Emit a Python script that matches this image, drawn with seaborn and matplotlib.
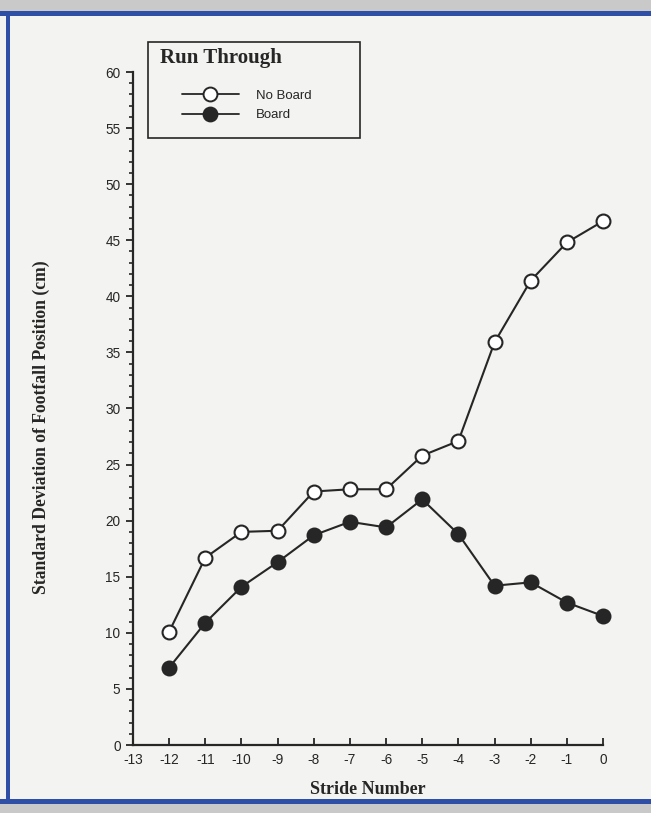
import numpy as np
import pandas as pd
import seaborn as sns
import matplotlib.pyplot as plt
from matplotlib.lines import Line2D
from matplotlib.patches import Rectangle
from matplotlib.ticker import MultipleLocator

stride = [-12, -11, -10, -9, -8, -7, -6, -5, -4, -3, -2, -1, 0]
no_board = [10.1, 16.7, 19.0, 19.1, 22.6, 22.8, 22.8, 25.8, 27.1, 35.9, 41.4, 44.8, 46.7]
board = [6.9, 10.9, 14.1, 16.3, 18.7, 19.9, 19.4, 21.9, 18.8, 14.2, 14.5, 12.7, 11.5]
xticks = list(range(-13, 1))
yticks = list(range(0, 61, 5))

sns.set_theme(style="ticks")
plt.rcParams['font.family'] = ['Liberation Sans', 'DejaVu Sans']
plt.rcParams['axes.unicode_minus'] = False

bg = '#f3f3f1'
blue = '#2f4fa6'
ink = '#262626'

fig = plt.figure(figsize=(6.51, 8.13), dpi=100)
fig.patch.set_facecolor(bg)

def fig_rect(x0, y0, w, h, color, z=1):
    # rectangle given in pixels from the top-left corner
    fig.patches.append(Rectangle((x0/651, 1 - (y0 + h)/813), w/651, h/813,
                                 transform=fig.transFigure, facecolor=color,
                                 edgecolor='none', zorder=z))

# scanned page frame
fig_rect(0, 0, 651, 11, '#c9c9c9', 0)
fig_rect(0, 11, 651, 5, blue)
fig_rect(0, 804, 651, 9, '#c9c9c9', 0)
fig_rect(0, 799, 651, 5, blue)
fig_rect(6, 16, 4, 783, blue)

ax = fig.add_axes([133/651, 68/813, 470/651, 673/813])
ax.set_facecolor(bg)

sns.lineplot(x=stride, y=no_board, ax=ax, color=ink, lw=1.5, marker='o',
             markersize=10, markerfacecolor='white', markeredgecolor=ink,
             markeredgewidth=1.5, zorder=3, clip_on=False)
sns.lineplot(x=stride, y=board, ax=ax, color=ink, lw=1.5, marker='o',
             markersize=10, markerfacecolor=ink, markeredgecolor=ink,
             markeredgewidth=1.5, zorder=3, clip_on=False)

ax.set_xlim(-13, 0)
ax.set_ylim(0, 60)
ax.set_xticks(xticks)
ax.set_yticks(yticks)
ax.yaxis.set_minor_locator(MultipleLocator(1))
ax.tick_params(axis='x', direction='in', length=5, width=1.3, colors=ink,
               labelsize=9.8, pad=6)
ax.tick_params(axis='y', which='major', direction='out', length=5, width=1.3,
               colors=ink, labelsize=9.8, pad=4)
ax.tick_params(axis='y', which='minor', direction='out', length=3, width=1.2,
               colors=ink)
for s in ['top', 'right']:
    ax.spines[s].set_visible(False)
for s in ['left', 'bottom']:
    ax.spines[s].set_linewidth(1.6)
    ax.spines[s].set_color(ink)

ax.set_xlabel('Stride Number', fontfamily='Liberation Serif', fontweight='bold',
              fontsize=13, color=ink, labelpad=10)
ax.set_ylabel('Standard Deviation of Footfall Position (cm)',
              fontfamily='Liberation Serif', fontweight='bold', fontsize=12.7,
              color=ink)
ax.yaxis.set_label_coords(-0.177, 0.472)

# legend box, title and entries
fig.patches.append(Rectangle((148/651, 1 - 138/813), 212/651, 96/813,
                             transform=fig.transFigure, facecolor=bg,
                             edgecolor=ink, linewidth=1.2, zorder=4))
fig.text(160/651, 1 - 58/813, 'Run Through', fontfamily='Liberation Serif',
         fontweight='bold', fontsize=15, color=ink, va='center', ha='left',
         zorder=5)
handles = [
    Line2D([], [], color=ink, lw=1.3, marker='o', markersize=10,
           markerfacecolor='white', markeredgecolor=ink, markeredgewidth=1.4),
    Line2D([], [], color=ink, lw=1.3, marker='o', markersize=10,
           markerfacecolor=ink, markeredgecolor=ink, markeredgewidth=1.4),
]
leg = fig.legend(handles, ['No Board', 'Board'], loc='center left',
                 bbox_to_anchor=(182/651, 1 - 105.5/813), fontsize=9.5,
                 handlelength=4.3, handletextpad=1.3, borderpad=0,
                 labelspacing=0.55, frameon=False, borderaxespad=0)
leg.set_zorder(6)
for t in leg.get_texts():
    t.set_color(ink)

fig.savefig('out.png', dpi=100, facecolor=fig.get_facecolor())
